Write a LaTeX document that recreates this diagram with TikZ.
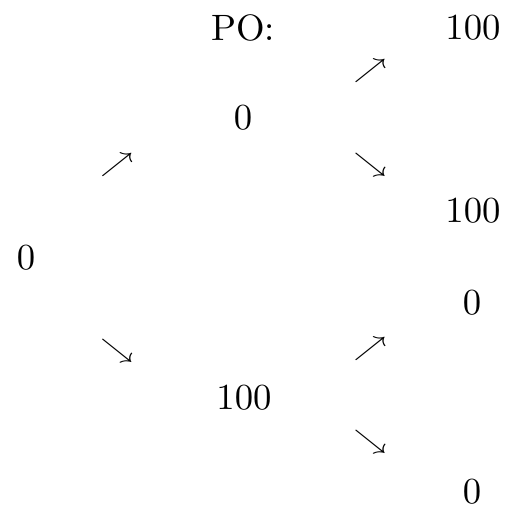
\documentclass[tikz,border=0pt]{standalone}
\usepackage{amsmath,amssymb}
\usepackage{tikz}

\newcommand{\uparw}{\scalebox{0.9}[0.72]{$\nearrow$}}
\newcommand{\dnarw}{\scalebox{0.9}[0.72]{$\searrow$}}

\begin{document}
\begin{tikzpicture}[x=0.2725pt, y=-0.2725pt,
  pay/.style={inner sep=0pt, font=\normalsize},
  arw/.style={inner sep=0pt}]
\useasboundingbox (0,0) rectangle (506,506);
% payoff header
\node[pay] (po) at (243,28) {PO:};
% tree nodes
\node[pay] (root) at (26,258) {$0$};
\node[pay] (up) at (243,118) {$0$};
\node[pay] (down) at (244,398) {$100$};
\node[pay] (uu) at (473,28) {$100$};
\node[pay] (ud) at (473,211) {$100$};
\node[pay] (du) at (472,303) {$0$};
\node[pay] (dd) at (472,492) {$0$};
% arrows between stages
\node[arw] (a-up) at (117,165) {\uparw};
\node[arw] (a-down) at (117,351) {\dnarw};
\node[arw] (a-uu) at (370,71) {\uparw};
\node[arw] (a-ud) at (370,165) {\dnarw};
\node[arw] (a-du) at (370,349) {\uparw};
\node[arw] (a-dd) at (370,442) {\dnarw};
\end{tikzpicture}
\end{document}
